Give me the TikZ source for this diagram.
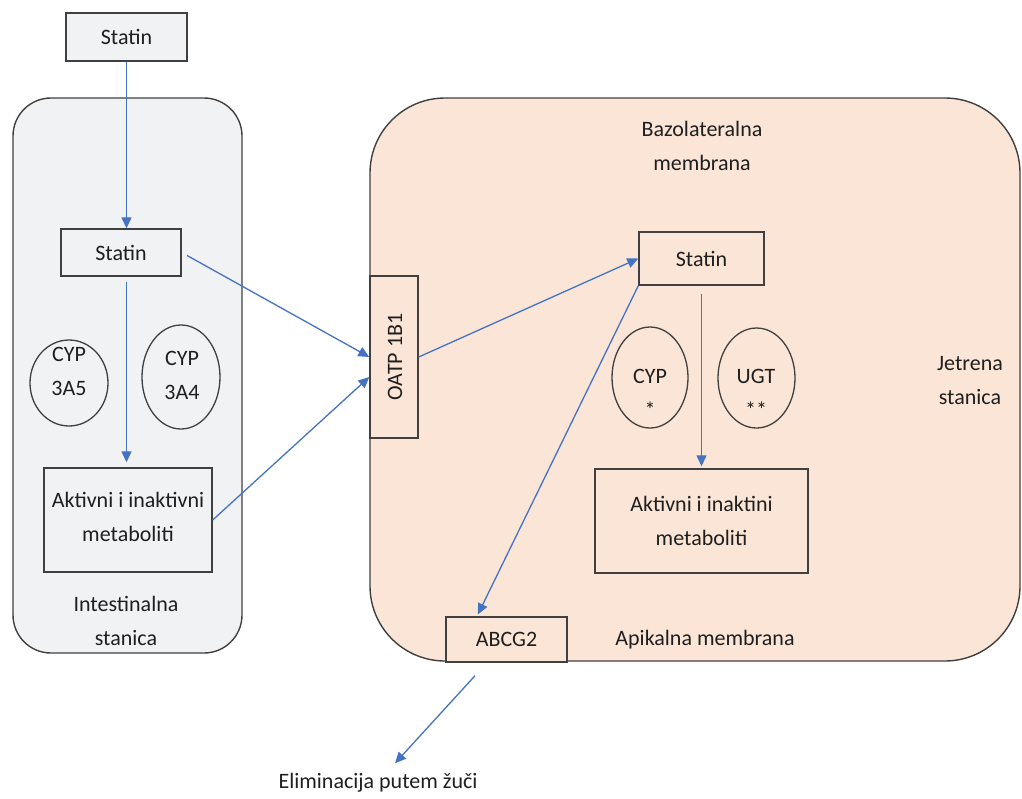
\documentclass[tikz,border=0pt]{standalone}
\usepackage{fontspec}
\setmainfont{Carlito}
\usetikzlibrary{arrows.meta,shapes.geometric}
\definecolor{cellgray}{HTML}{F1F2F4}
\definecolor{peach}{HTML}{FBE5D6}
\definecolor{edgec}{HTML}{404040}
\definecolor{arrblue}{HTML}{4472C4}
\newcommand\dfont{\fontsize{22}{34}\selectfont}
\tikzset{
  cell/.style={draw=edgec, line width=1.4pt, rectangle, inner sep=0pt},
  boxn/.style={draw=edgec, line width=1.4pt, rectangle, inner sep=0pt, align=center, font=\dfont, text=black!88},
  elln/.style={draw=edgec, line width=1.3pt, ellipse, inner sep=0pt},
  txt/.style={align=center, font=\dfont, text=black!88, inner sep=0pt},
  arr/.style={draw=arrblue, line width=1.3pt, -{Triangle[width=10pt,length=11pt]}}
}
\begin{document}
\begin{tikzpicture}[x=1pt,y=-1pt]
\useasboundingbox[fill=white] (0,0) rectangle (1022,798);
% cells
\node[cell, fill=cellgray, minimum width=229pt, minimum height=555pt, rounded corners=38pt] (intest) at (127.5,375.5) {};
\node[cell, fill=peach, minimum width=650pt, minimum height=563pt, rounded corners=75pt] (liver) at (695,379.5) {};
% left side
\node[boxn, fill=cellgray, minimum width=121pt, minimum height=48pt] (statin0) at (126.5,37) {Statin};
\node[boxn, fill=cellgray, minimum width=120pt, minimum height=47pt] (statin1) at (121,252.5) {Statin};
\node[elln, minimum width=78pt, minimum height=86pt] (cyp5) at (69,383) {};
\node[txt] (cyp5t) at (69,371) {CYP\\3A5};
\node[elln, minimum width=78pt, minimum height=104pt] (cyp4) at (181,377) {};
\node[txt] (cyp4t) at (182,375) {CYP\\3A4};
\node[boxn, fill=cellgray, minimum width=168pt, minimum height=104pt] (met1) at (128,520) {};
\node[txt] (met1t) at (128,517) {Aktivni i inaktivni\\metaboliti};
\node[txt] (intestt) at (126,621) {Intestinalna\\stanica};
% right side
\node[boxn, fill=peach, minimum width=48pt, minimum height=162pt] (oatp) at (394,357) {};
\node[txt, rotate=90] (oatpt) at (395,357) {OATP 1B1};
\node[txt] (bazo) at (702,146) {Bazolateralna\\membrana};
\node[boxn, fill=peach, minimum width=125pt, minimum height=53pt] (statin2) at (701.5,258.5) {Statin};
\node[elln, minimum width=76pt, minimum height=101pt] (cypl) at (650,377.5) {};
\node[txt] (cyplt) at (650,393) {CYP\\*};
\node[elln, minimum width=77pt, minimum height=100pt] (ugt) at (756.5,378) {};
\node[txt] (ugtt) at (756,393) {UGT\\**};
\node[boxn, fill=peach, minimum width=213pt, minimum height=104pt] (met2) at (701.5,521) {Aktivni i inaktini\\metaboliti};
\node[txt] (jetrena) at (970,381) {Jetrena\\stanica};
\node[boxn, fill=peach, minimum width=121pt, minimum height=45pt] (abcg2) at (506.5,639.5) {ABCG2};
\node[txt] (apik) at (705,640) {Apikalna membrana};
\node[txt] (elim) at (378,783) {Eliminacija putem žuči};
% arrows
\draw[arr] (statin0.south) -- (statin0.south |- statin1.north);
\draw[arr, shorten <=5pt, shorten >=5pt] (statin1.south -| statin0.south) -- (statin0.south |- met1.north);
\draw[arr, shorten <=6pt] (statin1.east) -- (oatp.west);
\draw[arr] (met1.east) -- ([yshift=-20pt]oatp.west);
\draw[arr] (oatp.east) -- (statin2.west);
\draw[arr, shorten <=8pt, shorten >=2pt] (statin2.south) -- (met2.north);
\draw[arr, shorten >=2pt] (statin2.south west) -- ([xshift=-29.5pt]abcg2.north);
\draw[arr] ([xshift=-31.5pt,yshift=-13pt]abcg2.south) -- ([xshift=17pt,yshift=10pt]elim.north);
\end{tikzpicture}
\end{document}
